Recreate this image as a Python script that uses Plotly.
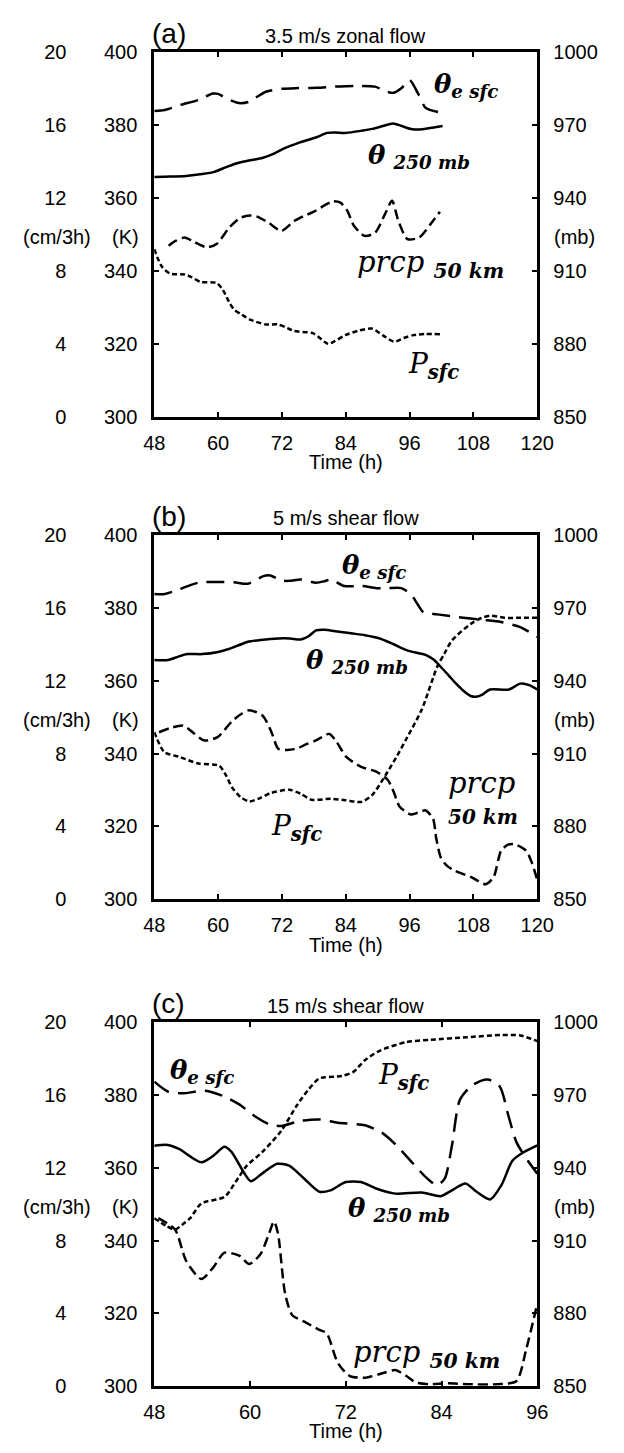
import plotly.graph_objects as go

W, H = 624, 1453

# ---------------- data ----------------
# Panel (a) 3.5 m/s zonal flow
a_te_t = [48, 50, 53, 56.4, 59, 60, 61.8, 63.9, 65.7, 67, 69, 72, 75, 78.5, 82, 86, 89.5, 91.5, 93, 94.5, 96, 97.7, 99, 101.7]
a_te_v = [383.9, 384.2, 385.6, 387, 388.7, 388.6, 387.2, 386.1, 386.4, 387.5, 389.2, 390, 390.2, 390.3, 390.6, 390.8, 390.6, 389.3, 388.9, 390.2, 392.4, 388.4, 384.8, 383.5]
a_th_t = [48, 51, 54, 57, 59.3, 61, 63.4, 66, 68.3, 70.5, 72.5, 75, 78.5, 80.5, 82, 84, 87, 89, 91, 92.9, 94.5, 96.5, 98.8, 100.5, 102.2]
a_th_v = [365.8, 365.9, 366.1, 366.6, 367.2, 368.2, 369.5, 370.4, 371.0, 372.2, 373.7, 375.1, 376.7, 377.9, 378.0, 377.9, 378.5, 379.0, 379.8, 380.5, 379.8, 378.9, 379.0, 379.4, 379.8]
a_pr_t = [50.7, 52, 53.7, 55.5, 57.9, 59.7, 62.1, 64.2, 66, 67.2, 69.5, 71.9, 74.3, 76, 77.9, 80, 81.5, 83, 84.3, 85.5, 87.5, 89.5, 91.5, 92.7, 93.9, 95.6, 97.8, 99.9, 101.7]
a_pr_v = [9.39, 9.65, 9.84, 9.6, 9.3, 9.48, 10.38, 10.92, 11.05, 11.0, 10.65, 10.2, 10.74, 11.0, 11.24, 11.6, 11.82, 11.75, 11.3, 10.5, 9.93, 10.1, 11.2, 11.85, 10.74, 9.75, 9.84, 10.56, 11.25]
a_ps_t = [48, 48.6, 49.5, 51, 53.7, 55, 56.7, 59.7, 60.9, 62, 63, 64.5, 66, 69, 71.3, 73, 74.3, 77.9, 80.7, 82, 83.9, 86.5, 88.9, 91, 93.1, 95, 96.7, 99, 101.7]
a_ps_v = [919, 915.5, 911.6, 908.9, 908.6, 907.5, 905.5, 905.1, 902.2, 897.5, 894.1, 892, 890, 888, 888, 886.5, 885.3, 884.3, 880, 881.2, 883.6, 885.5, 886.3, 883.5, 880.9, 882.5, 883.6, 884.1, 884]

# Panel (b) 5 m/s shear flow
b_te_t = [48, 50, 52, 54, 56.3, 58.5, 60.6, 63, 65.6, 67, 68.5, 69.8, 71.9, 73.5, 75.5, 78.4, 80, 81.2, 83.7, 86.9, 89.8, 92, 94.4, 96.2, 97.5, 98.6, 101.2, 106.1, 109.7, 113.2, 116.8, 120]
b_te_v = [383.8, 383.8, 384.7, 385.8, 386.9, 387.1, 387.1, 387, 386.6, 387.5, 388.7, 388.9, 387.5, 387.4, 387.8, 386.9, 387.3, 387.8, 386, 386, 385.4, 385.4, 385.4, 383.8, 381, 378.8, 378.2, 377.3, 376.7, 376.1, 374.7, 372]
b_th_t = [48, 50.6, 52.5, 54.2, 57, 60, 62, 64, 65.6, 68, 71.3, 73.5, 75.5, 77, 78.4, 80, 82, 85, 87.6, 90.4, 93, 95.4, 97.5, 99, 100.5, 101.8, 103.5, 104.6, 106, 107.5, 108.5, 109.7, 111.1, 114.7, 116.8, 118.5, 120]
b_th_v = [365.7, 365.7, 366.6, 367.3, 367.3, 367.9, 368.7, 369.8, 370.7, 371.2, 371.6, 371.6, 371.3, 372.2, 373.8, 374, 373.6, 373, 372.5, 371.6, 370, 368.4, 367.6, 367.1, 365.8, 363.9, 361.2, 359.4, 357.4, 355.8, 355.6, 356.2, 357.6, 357.6, 359.2, 358.8, 357.6]
b_pr_t = [48.9, 51, 53.5, 55.5, 57.4, 59.9, 61.5, 62.7, 64.5, 65.9, 68.4, 70, 71.3, 73, 74.8, 76.5, 78.4, 80.9, 82.3, 84.1, 86.9, 89.8, 91.9, 93, 94.1, 96.2, 97.5, 99, 100.4, 101, 101.9, 103, 104.3, 107.5, 110.3, 111.8, 113.2, 114.5, 115.7, 117.9, 119, 120]
b_pr_v = [9.17, 9.4, 9.53, 9.1, 8.72, 8.9, 9.4, 9.8, 10.2, 10.38, 10.07, 9.2, 8.27, 8.2, 8.27, 8.5, 8.72, 9.08, 8.63, 7.82, 7.27, 7.0, 6.55, 5.9, 5.1, 4.66, 4.75, 4.88, 4.43, 3.35, 2.27, 1.85, 1.6, 1.23, 0.83, 1.23, 2.67, 3.0, 3.03, 2.67, 2.0, 1.05]
b_ps_t = [48, 49.9, 52.8, 56.3, 60.2, 61.5, 62.7, 64.3, 65.9, 68, 69.8, 73.4, 75.5, 77.6, 81.2, 84, 86.9, 89, 91.5, 93.5, 95.4, 98.3, 101.2, 102.5, 104, 107.5, 109.5, 111.1, 113.9, 117, 120]
b_ps_v = [918.8, 910.6, 908.6, 905.9, 905, 901, 895.8, 892, 890.3, 891.8, 893.7, 895.1, 893.5, 891, 891.4, 890.8, 890.1, 893, 901.2, 908.5, 916.1, 928.2, 945.8, 951, 956.7, 963.4, 965.8, 966.8, 965.9, 965.9, 965.9]

# Panel (c) 15 m/s shear flow
c_te_t = [48, 49.7, 51.6, 54.4, 56.8, 58.7, 60.6, 62.5, 63.9, 66.3, 68.7, 71, 74.4, 76.5, 78.2, 80.1, 82, 83.4, 84.4, 85.3, 86.3, 87.9, 89.8, 91.3, 92.4, 93.4, 94.8, 96]
c_te_v = [383.7, 381, 380.5, 381.2, 379.6, 377.4, 374.2, 371.9, 371.5, 372.9, 373.3, 372.4, 371.7, 369.7, 366.5, 362, 357.5, 355.2, 357, 366.1, 378.7, 382.8, 384.3, 382.4, 374.2, 367, 362, 358.4]
c_th_t = [48, 49.7, 51.1, 53.9, 55.4, 56.8, 57.7, 59.2, 60.1, 61.5, 63.4, 64.9, 66.8, 68.7, 70.1, 72, 73.9, 75.8, 78.2, 81.5, 83.9, 85.3, 87, 88.4, 90.1, 91.5, 92.9, 94.3, 96]
c_th_v = [366.1, 366.3, 365.2, 361.5, 363.3, 365.8, 364.3, 358.8, 356.3, 358.4, 361.1, 360.6, 357, 353.4, 353.8, 356.1, 356.1, 354.3, 352.9, 353.2, 352.2, 353.8, 355.7, 353.4, 351.3, 355.2, 362, 364.3, 366.2]
c_pr_t = [48.5, 50.6, 52, 53.9, 55.4, 56.8, 58.7, 59.9, 61.3, 62.4, 63, 63.5, 64.4, 65.3, 66.8, 68.7, 69.6, 71, 72.5, 74.4, 76.8, 78.2, 79.6, 80.8, 82.5, 84.8, 87.2, 91, 93.4, 94.6, 96]
c_pr_v = [9.23, 8.6, 6.88, 5.88, 6.52, 7.33, 7.15, 6.7, 7.24, 8.4, 9.05, 8.4, 5.07, 3.89, 3.53, 3.08, 2.9, 1.27, 0.54, 0.45, 0.72, 0.87, 0.54, 0.18, 0.09, 0.14, 0.09, 0.09, 0.27, 1.99, 4.52]
c_ps_t = [48, 49.5, 50.6, 51.5, 52.5, 53.9, 56.8, 58.2, 59.6, 61.5, 63.9, 65.8, 67.3, 68.7, 71.5, 73, 74.4, 76.3, 79.6, 82.5, 87.2, 91.5, 93.9, 96]
c_ps_v = [919.2, 916, 914.5, 916.5, 919.2, 925.3, 928, 934.2, 940.9, 946.4, 955.2, 965.4, 972.2, 976.9, 977.9, 979.7, 984.4, 988.4, 991.9, 992.8, 993.9, 994.8, 994.6, 992.3]

panel_letters = ["(a)", "(b)", "(c)"]
panel_titles = ["3.5 m/s zonal flow", "5 m/s shear flow", "15 m/s shear flow"]
x_ranges = [[48, 120], [48, 120], [48, 96]]
x_ticks = [[48, 60, 72, 84, 96, 108, 120], [48, 60, 72, 84, 96, 108, 120], [48, 60, 72, 84, 96]]
k_ticks = [300, 320, 340, 360, 380, 400]
pr_ticks = [0, 4, 8, 12, 16, 20]
mb_ticks = [850, 880, 910, 940, 970, 1000]

panels = [
    dict(te=(a_te_t, a_te_v), th=(a_th_t, a_th_v), pr=(a_pr_t, a_pr_v), ps=(a_ps_t, a_ps_v)),
    dict(te=(b_te_t, b_te_v), th=(b_th_t, b_th_v), pr=(b_pr_t, b_pr_v), ps=(b_ps_t, b_ps_v)),
    dict(te=(c_te_t, c_te_v), th=(c_th_t, c_th_v), pr=(c_pr_t, c_pr_v), ps=(c_ps_t, c_ps_v)),
]

# curve labels: (text, x[h], y[K], font size)
TE = "<b><i>θ</i></b><sub><b><i>e sfc</i></b></sub>"
TH = "<b><i>θ</i></b> <sub><b><i>250 mb</i></b></sub>"
PR = "<i>prcp</i> <sub><b><i>50 km</i></b></sub>"
PS = "<i>P</i><sub><b><i>sfc</i></b></sub>"
curve_labels = [
    [(TE, 100.2, 390.9, 26), (TH, 87.8, 371.4, 26), (PR, 85.7, 341.8, 29), (PS, 95.3, 314.2, 28)],
    [(TE, 83.0, 391.4, 26), (TH, 76.2, 365.3, 26), ("<i>prcp</i>", 102.8, 331.8, 29),
     ("<b><i>50 km</i></b>", 102.8, 322.6, 20), (PS, 69.5, 319.7, 28)],
    [(TE, 49.7, 386.4, 26), (PS, 75.8, 385.1, 28), (TH, 72.0, 348.4, 26), (PR, 72.7, 308.9, 29)],
]

# ---------------- layout helpers ----------------
X0, X1 = 150, 551
frames = [(42, 412), (532, 902), (1027, 1396)]


def px(x):
    return x / W


def py(y):
    return 1 - y / H


SANS = "Liberation Sans, Arial, sans-serif"
SERIF = "DejaVu Serif, serif"
tickfont = dict(family=SANS, size=20, color="black")

fig = go.Figure()
layout = dict(width=W, height=H, margin=dict(l=0, r=0, t=0, b=0),
              paper_bgcolor="white", plot_bgcolor="white", showlegend=False)
annotations = []

for i, (p, (ft, fb)) in enumerate(zip(panels, frames)):
    xn = "" if i == 0 else str(i + 1)
    k_id = 3 * i + 1
    pr_id = 3 * i + 2
    mb_id = 3 * i + 3
    kname = "y" if k_id == 1 else f"y{k_id}"
    dom_y = [py(fb), py(ft)]
    layout[f"xaxis{xn}"] = dict(
        domain=[px(X0), px(X1)], anchor=kname, range=x_ranges[i],
        tickmode="array", tickvals=x_ticks[i], ticks="inside", ticklen=5, tickwidth=2,
        tickcolor="black", showline=True, linewidth=3, linecolor="black", mirror="ticks",
        showgrid=False, zeroline=False, tickfont=tickfont, ticklabelstandoff=6,
    )
    layout[f"yaxis{'' if k_id == 1 else k_id}"] = dict(
        domain=dom_y, anchor=f"x{xn}", range=[300, 400], tickmode="array", tickvals=k_ticks,
        ticks="inside", ticklen=5, tickwidth=2, tickcolor="black",
        showline=True, linewidth=3, linecolor="black", mirror="ticks",
        showgrid=False, zeroline=False, tickfont=tickfont, ticklabelstandoff=10,
    )
    layout[f"yaxis{pr_id}"] = dict(
        domain=dom_y, anchor="free", overlaying=kname, side="left", position=px(58),
        range=[0, 20], tickmode="array", tickvals=pr_ticks, ticks="", showline=False,
        showgrid=False, zeroline=False, tickfont=tickfont,
    )
    layout[f"yaxis{mb_id}"] = dict(
        domain=dom_y, anchor=f"x{xn}", overlaying=kname, side="right",
        range=[850, 1000], tickmode="array", tickvals=mb_ticks, ticks="", showline=False,
        showgrid=False, zeroline=False, tickfont=tickfont, ticklabelstandoff=15,
    )
    xr = f"x{xn}"
    # traces
    fig.add_trace(go.Scatter(x=p["te"][0], y=p["te"][1], xaxis=xr, yaxis=kname, mode="lines",
                             line=dict(color="black", width=2.5, dash="18px,9px", shape="spline", smoothing=0.7)))
    fig.add_trace(go.Scatter(x=p["th"][0], y=p["th"][1], xaxis=xr, yaxis=kname, mode="lines",
                             line=dict(color="black", width=2.5, shape="spline", smoothing=0.7)))
    fig.add_trace(go.Scatter(x=p["pr"][0], y=p["pr"][1], xaxis=xr, yaxis=f"y{pr_id}", mode="lines",
                             line=dict(color="black", width=2.5, dash="10px,5px", shape="spline", smoothing=0.7)))
    fig.add_trace(go.Scatter(x=p["ps"][0], y=p["ps"][1], xaxis=xr, yaxis=f"y{mb_id}", mode="lines",
                             line=dict(color="black", width=2.5, dash="5px,3px", shape="spline", smoothing=0.7)))

    # panel letter and title
    annotations.append(dict(text=panel_letters[i], xref="paper", yref="paper", x=px(146), y=py(ft - 19),
                            xanchor="left", yanchor="middle", showarrow=False,
                            font=dict(family=SANS, size=28, color="black")))
    annotations.append(dict(text=panel_titles[i], xref="paper", yref="paper", x=px((X0 + X1) / 2), y=py(ft - 17),
                            xanchor="center", yanchor="middle", showarrow=False,
                            font=dict(family=SANS, size=20, color="black")))
    annotations.append(dict(text="Time (h)", xref="paper", yref="paper", x=px((X0 + X1) / 2), y=py(fb + 46),
                            xanchor="center", yanchor="middle", showarrow=False,
                            font=dict(family=SANS, size=20, color="black")))
    # unit labels
    annotations.append(dict(text="(cm/3h)", xref="paper", yref=kname, x=px(48), y=349.3,
                            xanchor="center", yanchor="middle", showarrow=False, font=tickfont))
    annotations.append(dict(text="(K)", xref="paper", yref=kname, x=px(136), y=349.3,
                            xanchor="right", yanchor="middle", showarrow=False, font=tickfont))
    annotations.append(dict(text="(mb)", xref="paper", yref=kname, x=px(566), y=349.3,
                            xanchor="left", yanchor="middle", showarrow=False, font=tickfont))
    # curve labels
    for text, lx, ly, fs in curve_labels[i]:
        annotations.append(dict(text=text, xref=xr, yref=kname, x=lx, y=ly, xanchor="left", yanchor="middle",
                                showarrow=False, font=dict(family=SERIF, size=fs, color="black")))

layout["annotations"] = annotations
fig.update_layout(**layout)
fig.write_html("out.html", config={"displayModeBar": False},
               post_script="document.body.style.margin='0';")
